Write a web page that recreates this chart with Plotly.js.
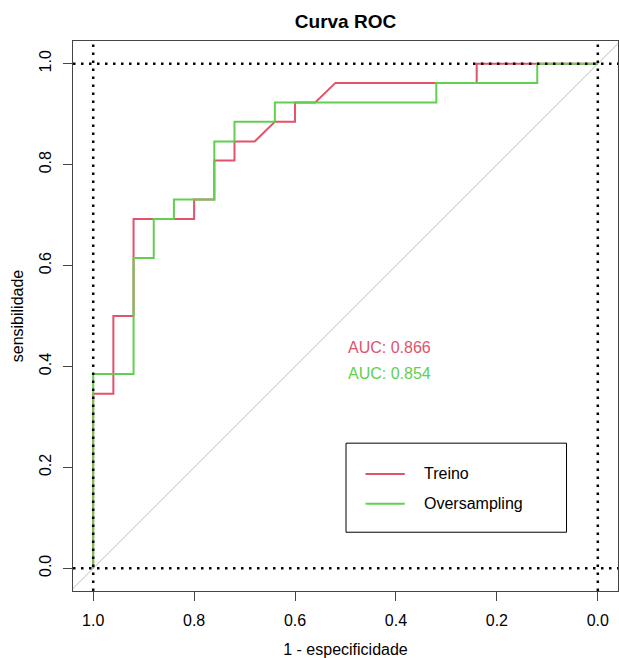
<!DOCTYPE html>
<html>
<head>
<meta charset="utf-8">
<script src="https://cdn.plot.ly/plotly-3.0.1.min.js"></script>
<style>
  html, body { margin: 0; padding: 0; background: #ffffff; }
  #roc { width: 619px; height: 658px; }
</style>
</head>
<body>
<div id="roc"></div>
<script>
// ROC curves: specificity on a reversed x axis, sensitivity on y
const seriesNames = ["Treino", "Oversampling"];
const seriesColors = ["#DF536B", "#61D04F"];
const aucValues = [0.866, 0.854];

const treinoSpec = [1, 1, 0.96, 0.96, 0.92, 0.92, 0.80, 0.80, 0.76, 0.76, 0.72,
                    0.72, 0.68, 0.64, 0.60, 0.60, 0.56, 0.52, 0.24, 0.24, 0];
const treinoSens = [0, 0.346, 0.346, 0.500, 0.500, 0.692, 0.692, 0.731, 0.731, 0.808, 0.808,
                    0.846, 0.846, 0.885, 0.885, 0.923, 0.923, 0.962, 0.962, 1, 1];

const overSpec = [1, 1, 0.92, 0.92, 0.88, 0.88, 0.84, 0.84, 0.76, 0.76,
                  0.72, 0.72, 0.64, 0.64, 0.32, 0.32, 0.12, 0.12, 0];
const overSens = [0, 0.385, 0.385, 0.615, 0.615, 0.692, 0.692, 0.731, 0.731, 0.846,
                  0.846, 0.885, 0.885, 0.923, 0.923, 0.962, 0.962, 1, 1];

const tickVals = [0, 0.2, 0.4, 0.6, 0.8, 1.0];
const tickText = ["0.0", "0.2", "0.4", "0.6", "0.8", "1.0"];

const FONT = "Liberation Sans, Arial, sans-serif";
const AXIS_COLOR = "#444444";

const traces = [
  { x: treinoSpec, y: treinoSens, name: seriesNames[0] },
  { x: overSpec, y: overSens, name: seriesNames[1] }
].map((t, i) => Object.assign(t, {
  type: "scatter",
  mode: "lines",
  line: { color: seriesColors[i], width: 2 },
  hoverinfo: "skip",
  showlegend: false
}));

const dotted = { color: "#000000", width: 2.5, dash: "2.5px,5.5px" };

const shapes = [
  // chance diagonal
  { type: "line", xref: "x", yref: "y", x0: 1.04, y0: -0.04, x1: -0.04, y1: 1.04,
    line: { color: "#BEBEBE", width: 1 }, layer: "below" },
  // dotted limits of the unit square
  { type: "line", xref: "paper", yref: "y", x0: 0, x1: 1, y0: 0, y1: 0, line: dotted },
  { type: "line", xref: "paper", yref: "y", x0: 0, x1: 1, y0: 1, y1: 1, line: dotted },
  { type: "line", xref: "x", yref: "paper", x0: 1, x1: 1, y0: 0, y1: 1, line: dotted },
  { type: "line", xref: "x", yref: "paper", x0: 0, x1: 0, y0: 0, y1: 1, line: dotted },
  // legend frame
  { type: "rect", xref: "x", yref: "y", x0: 0.499, x1: 0.062, y0: 0.0715, y1: 0.248,
    line: { color: "#000000", width: 1 }, fillcolor: "rgba(0,0,0,0)" }
];

const legendRows = [0.187, 0.128];
const annotations = [];
seriesNames.forEach((name, i) => {
  shapes.push({ type: "line", xref: "x", yref: "y", x0: 0.4604, x1: 0.3826,
    y0: legendRows[i], y1: legendRows[i], line: { color: seriesColors[i], width: 2 } });
  annotations.push({ xref: "x", yref: "y", x: 0.3476, y: legendRows[i],
    text: name, showarrow: false, xanchor: "left", yanchor: "middle",
    font: { family: FONT, size: 16, color: "#000000" } });
});

// AUC labels
const aucRows = [0.438, 0.387];
aucValues.forEach((v, i) => {
  annotations.push({ xref: "x", yref: "y", x: 0.5, y: aucRows[i],
    text: "AUC: " + v.toFixed(3), showarrow: false, xanchor: "left", yanchor: "middle",
    font: { family: FONT, size: 16, color: seriesColors[i] } });
});

const axisCommon = {
  showgrid: false,
  zeroline: false,
  showline: true,
  mirror: true,
  linecolor: AXIS_COLOR,
  linewidth: 1,
  ticks: "outside",
  ticklen: 9,
  tickwidth: 1,
  tickcolor: AXIS_COLOR,
  tickvals: tickVals,
  ticktext: tickText,
  tickfont: { family: FONT, size: 16, color: "#000000" }
};

const layout = {
  width: 619,
  height: 658,
  margin: { l: 73, r: 1, t: 41, b: 67 },
  paper_bgcolor: "#ffffff",
  plot_bgcolor: "#ffffff",
  title: {
    text: "<b>Curva ROC</b>",
    font: { family: FONT, size: 19, color: "#000000" },
    x: 0.5, xref: "paper", xanchor: "center",
    y: 0.968, yanchor: "middle"
  },
  xaxis: Object.assign({}, axisCommon, {
    range: [1.04, -0.04],
    ticklabelstandoff: 6,
    title: { text: "1 - especificidade", font: { family: FONT, size: 16, color: "#000000" }, standoff: 16 }
  }),
  yaxis: Object.assign({}, axisCommon, {
    range: [-0.045, 1.045],
    tickangle: -90,
    ticklabelstandoff: 6,
    title: { text: "sensibilidade", font: { family: FONT, size: 16, color: "#000000" }, standoff: 8 }
  }),
  shapes: shapes,
  annotations: annotations
};

Plotly.newPlot("roc", traces, layout, { displayModeBar: false, staticPlot: true });
</script>
</body>
</html>
